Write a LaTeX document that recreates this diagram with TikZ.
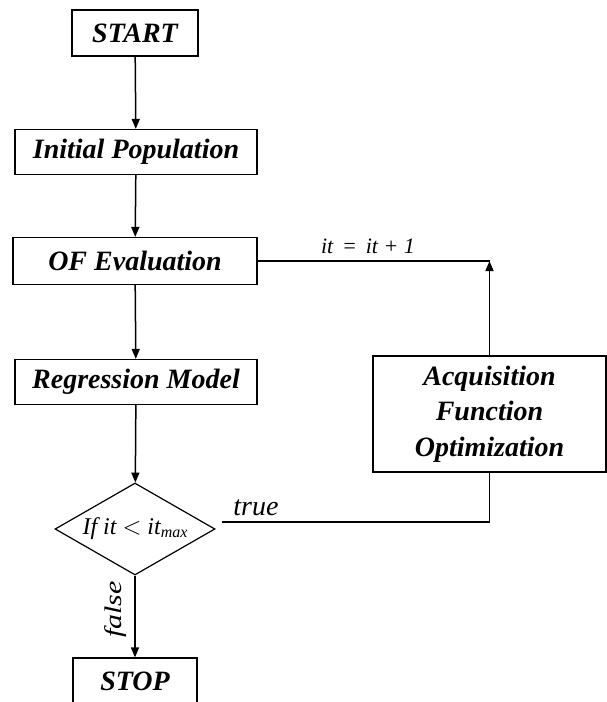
\documentclass[tikz,border=0pt]{standalone}
\usepackage{fontspec}
\setmainfont{Liberation Serif}
\usetikzlibrary{arrows.meta,shapes.geometric,calc}

\begin{document}
\begin{tikzpicture}[x=1pt,y=-1pt,
    procbox/.style={draw, line width=1.2pt, inner sep=0pt, align=center,
      font=\fontsize{28}{35.5}\selectfont\bfseries\itshape},
    cond/.style={draw, diamond, aspect=1.74, line width=1.2pt, inner sep=0pt,
      minimum width=160pt, minimum height=92pt, font=\fontsize{24}{26}\selectfont\itshape},
    lbl/.style={font=\fontsize{28}{30}\selectfont\itshape, inner sep=0pt},
    flow/.style={line width=1.5pt, -{Triangle[length=10pt,width=8pt]}}]
    \useasboundingbox (0,0) rectangle (606,702);

    % boxes of the main column
    \node[procbox, minimum width=126pt, minimum height=46pt] (start) at (135,33) {START};
    \node[procbox, minimum width=242pt, minimum height=45pt] (init) at (136,152) {Initial Population};
    \node[procbox, minimum width=244pt, minimum height=47pt] (ofe) at (135,261) {OF Evaluation};
    \node[procbox, minimum width=242pt, minimum height=45pt] (reg) at (136,382) {Regression Model};
    \node[cond] (dec) at (135,529) {If it $<$ it\raisebox{-0.2ex}{\fontsize{16}{18}\selectfont max}};
    \node[procbox, minimum width=124pt, minimum height=46pt] (stop) at (135,681) {STOP};

    % loop box
    \node[procbox, minimum width=233pt, minimum height=116pt] (acq) at (489.5,414)
        {Acquisition\\Function\\Optimization};

    \draw[flow] (start) -- (init);
    \draw[flow] (init) -- (ofe);
    \draw[flow] (ofe) -- (reg);
    \draw[flow] (reg) -- (dec);
    \draw[flow] (dec) -- (stop);
    \node[lbl, rotate=90, anchor=south, font=\fontsize{24}{26}\selectfont\itshape]
        at ($(dec.south)!0.5!(stop.north)+(-8,-7)$) {\scalebox{1.25}[1]{false}};

    \draw[line width=1.5pt] ([shift={(6,-7)}]dec.east) -| (acq.south);
    \node[lbl, anchor=base] at (256,515) {true};

    \draw[line width=1.5pt] (ofe.east) -- (acq.north |- ofe.east);
    \draw[flow] (acq.north) -- (acq.north |- ofe.east);
    \node[lbl, anchor=base, font=\fontsize{22}{24}\selectfont\itshape] at (368,253)
        {it\hspace{0.4em}=\hspace{0.4em}it + 1};
\end{tikzpicture}
\end{document}
